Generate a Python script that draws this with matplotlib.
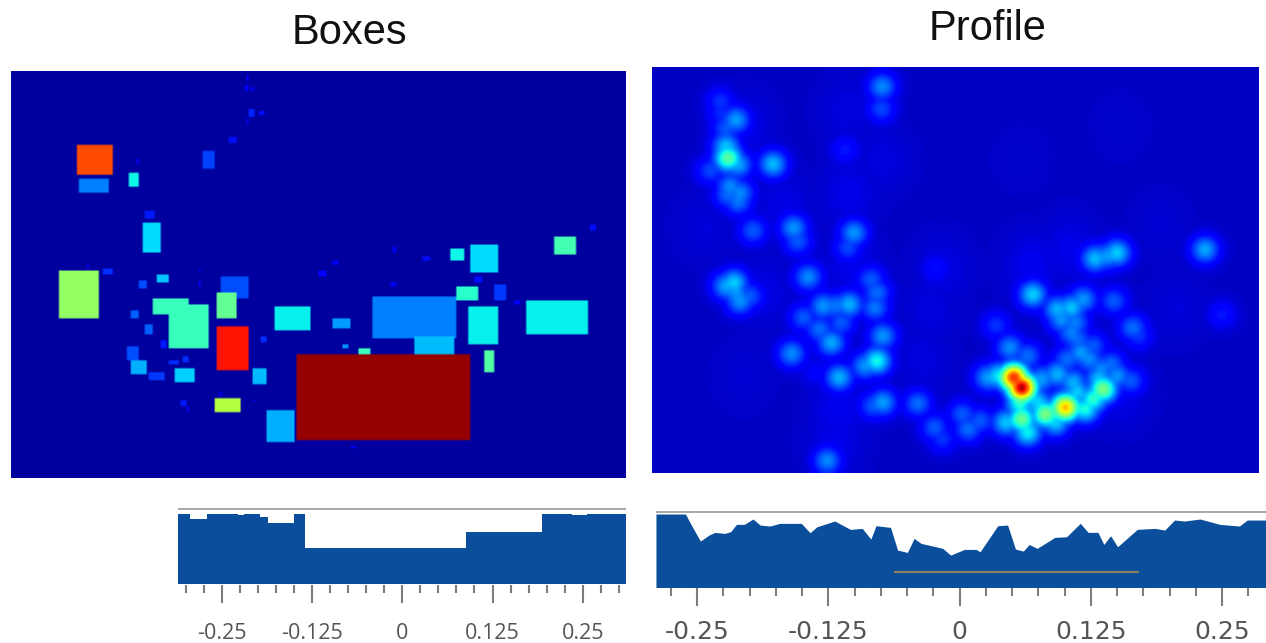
import numpy as np
import matplotlib
matplotlib.use("Agg")
import matplotlib.pyplot as plt
from matplotlib.ticker import FixedLocator, NullFormatter

W, H = 1266, 643

# ---- Boxes panel: x0, y0, x1, y1, level (image units)
box_bg = 0.03
boxes = [
 (190,256,277,344,.83),(194,357,268,401,.25),(317,339,342,379,.37),(498,273,525,327,.19),
 (561,228,581,250,.14),(605,45,609,60,.12),(600,77,609,92,.12),(616,82,623,94,.1),
 (608,148,622,172,.16),(632,150,646,166,.14),(604,178,609,194,.1),(333,298,337,312,.1),
 (354,452,378,478,.15),(351,485,396,579,.34),(143,629,244,775,.53),(250,625,276,646,.17),
 (212,612,220,625,.12),(342,662,358,685,.2),(384,646,414,668,.32),(540,651,609,718,.2),
 (531,696,581,775,.47),(374,713,461,763,.42),(415,736,511,864,.42),(322,752,342,775,.22),
 (355,796,373,825,.22),(392,840,410,864,.15),(309,859,342,902,.2),(322,898,359,942,.3),
 (364,937,405,959,.18),(415,898,438,914,.17),(446,886,462,905,.17),(428,924,475,965,.33),
 (531,802,609,930,.89),(617,925,655,975,.31),(640,828,654,848,.17),(526,1014,589,1059,.57),
 (442,1019,457,1036,.15),(457,1040,462,1055,.12),(654,1048,724,1146,.3),(673,741,761,813,.36),
 (815,775,857,807,.28),(838,852,853,865,.27),(880,864,908,882,.42),(914,708,1118,834,.25),
 (1014,830,1114,882,.31),(725,881,1151,1142,.98),(1147,741,1222,852,.36),(1119,680,1171,724,.4),
 (1101,568,1140,602,.37),(1151,551,1222,636,.34),(1360,530,1414,585,.43),(1290,724,1442,825,.36),
 (1188,869,1213,936,.45),(1212,675,1240,724,.18),(1161,651,1181,668,.14),(1262,722,1277,734,.12),
 (1445,495,1462,514,.14),(780,634,798,647,.12),(814,600,830,613,.12),(955,668,972,680,.12),
 (1036,590,1055,602,.14),(962,560,972,575,.1),(860,1156,872,1166,.1),(620,1018,628,1026,.08),
 (537,998,547,1010,.08),(487,660,494,678,.1),(488,628,494,636,.08),
]

# ---- Profile panel: bright spots (x, y, level)
profile_bg = 0.06
spots = [
 (190,125,.18),(192,160,.17),(230,180,.29),(205,205,.22),(205,260,.33),(210,295,.48),(235,315,.3),(165,333,.2),
 (323,313,.32),(215,380,.27),(240,400,.27),(235,425,.25),(210,405,.24),(273,513,.22),(375,505,.28),
 (385,545,.22),(527,520,.28),(512,565,.2),(598,80,.27),(596,147,.2),(505,270,.15),
 (225,670,.34),(205,680,.3),(240,725,.28),(265,710,.22),(230,700,.28),(412,653,.27),(570,660,.22),(585,700,.24),
 (580,745,.25),(515,735,.31),(450,740,.28),(480,740,.25),(400,775,.22),(440,810,.24),(470,850,.3),(495,790,.22),
 (600,830,.28),(585,905,.39),(555,920,.28),(370,883,.27),(490,955,.31),(430,940,.12),(600,1030,.29),
 (575,1040,.22),(688,1033,.24),(733,628,.14),(730,1105,.22),(750,1140,.18),(800,1065,.22),(815,1110,.24),
 (845,1085,.22),(978,705,.34),(885,798,.18),(1040,750,.31),(1075,745,.33),(1105,720,.28),(1085,790,.26),
 (1050,780,.28),(1075,820,.26),(1090,840,.24),(1100,880,.29),(1130,860,.22),(1065,900,.24),(1120,900,.27),
 (1150,930,.27),(1175,915,.24),(1190,950,.28),(1225,965,.22),(1145,960,.33),
 (1155,990,.52),(1130,1020,.42),(1110,1050,.4),(1060,1045,.74),(1010,1065,.52),(950,1080,.5),(965,1120,.38),
 (910,1090,.33),(1035,1090,.34),(930,955,.9),(950,985,1.0),(890,950,.36),(865,955,.29),(920,865,.27),
 (965,890,.24),(1000,960,.29),(1040,945,.31),(1080,970,.31),(1090,1000,.34),(990,1030,.35),(945,1030,.42),
 (1135,597,.32),(1190,580,.34),(1165,590,.29),(1412,570,.3),(1182,725,.22),(1230,805,.24),(1245,830,.18),
 (1455,765,.15),(460,1205,.27),
]
glows = [
 (510,150,.085),(515,400,.095),(520,620,.095),(490,1050,.1),(480,1150,.095),(600,300,.085),(975,620,.1),
 (750,630,.09),(1070,570,.095),(350,440,.09),(300,700,.09),(150,500,.08),(1340,750,.08),(720,750,.085),
 (950,300,.07),(1200,200,.07),(250,200,.095),(250,950,.075),(700,900,.085),(1200,1000,.095),(1300,500,.075),
]

# ---- Strips under the panels
ticks = [-0.25, -0.125, 0, 0.125, 0.25]
tick_labels = ["-0.25", "-0.125", "0", "0.125", "0.25"]
boxes_edges = [-.3107,-.2940,-.2700,-.2271,-.2193,-.1971,-.1856,-.1496,-.1347,.0878,.1931,.2346,.2554,.3099]
boxes_depth = [56,72,56,60,56,66,85,56,160,112,56,59,56,56]
profile_u = [15,90,105,128,150,165,190,205,220,240,262,280,305,330,385,407,425,470,510,540,562,575,612,630,
             655,672,690,720,745,765,800,830,840,885,910,930,950,965,985,1030,1060,1095,1115,1140,1155,1172,
             1190,1240,1285,1310,1335,1360,1400,1450,1500,1520,1568]
profile_depth = [57,57,90,138,120,112,115,110,88,88,72,90,93,85,85,113,95,78,103,100,132,92,97,165,
                 172,130,145,153,160,180,163,163,170,92,90,162,168,148,160,127,125,85,112,112,148,122,
                 155,103,100,105,75,78,72,88,93,75,75]

FILL = "#0b4f9c"
TICK = "#7d7d7d"
TXT = "#555555"


def axpx(fig, x0, y0, x1, y1):
    return fig.add_axes([x0 / W, 1 - y1 / H, (x1 - x0) / W, (y1 - y0) / H])


fig = plt.figure(figsize=(W / 100, H / 100), dpi=100, facecolor="white")

# Boxes heat panel
ax1 = axpx(fig, 11, 71, 626, 478)
gw, gh = 308, 204
xl = (27, 1534)
yl = (33, 1254)
grid = np.full((gh, gw), box_bg)
for x0, y0, x1, y1, v in boxes:
    c0 = int(round((x0 - xl[0]) / (xl[1] - xl[0]) * gw))
    c1 = max(c0 + 1, int(round((x1 - xl[0]) / (xl[1] - xl[0]) * gw)))
    r0 = int(round((y0 - yl[0]) / (yl[1] - yl[0]) * gh))
    r1 = max(r0 + 1, int(round((y1 - yl[0]) / (yl[1] - yl[0]) * gh)))
    grid[r0:r1, c0:c1] = v
ax1.imshow(grid, cmap="jet", vmin=0, vmax=1, aspect="auto", interpolation="bilinear",
           extent=(xl[0], xl[1], yl[1], yl[0]))
ax1.axis("off")
ax1.set_title("Boxes", fontsize=30, family="Liberation Sans", pad=19.5, x=(349 - 11) / 615, color="#111111")

# Profile heat panel
ax2 = axpx(fig, 652, 67, 1258, 473)
cw, ch = 152, 102
pxl = (18, 1548)
pyl = (21, 1242)
ux = pxl[0] + (np.arange(cw) + 0.5) / cw * (pxl[1] - pxl[0])
vy = pyl[0] + (np.arange(ch) + 0.5) / ch * (pyl[1] - pyl[0])
UU, VV = np.meshgrid(ux, vy)
hm = np.full((ch, cw), profile_bg)
def deposit(points, sx, sy):
    global hm
    for u, v, val in points:
        d2 = ((UU - u) / sx) ** 2 + ((VV - v) / sy) ** 2
        hm = np.maximum(hm, profile_bg + (val - profile_bg) * np.exp(-d2 / 2))
deposit(glows, 50, 70)
deposit(spots, 25, 29)
ax2.imshow(hm, cmap="jet", vmin=0, vmax=1, aspect="auto", interpolation="bicubic",
           extent=(pxl[0], pxl[1], pyl[1], pyl[0]))
ax2.axis("off")
ax2.set_title("Profile", fontsize=30, family="Liberation Sans", pad=19.5, x=(988 - 652) / 606, color="#111111")


def strip(ax, xlim, base, line_depth, fontfamily, fontsize, major, minor, pad):
    ax.set_xlim(*xlim)
    ax.set_ylim(base, 30)
    for s in ax.spines.values():
        s.set_visible(False)
    ax.axhline(line_depth, color="#a0a0a0", lw=1.3)
    ax.set_yticks([])
    ax.set_xticks(ticks)
    ax.set_xticklabels(tick_labels, family=fontfamily, fontsize=fontsize, color=TXT)
    mins = [t + k * 0.025 for t in np.arange(-0.5, 0.5, 0.125) for k in range(1, 5)]
    mins = [m for m in mins if xlim[0] < m < xlim[1]]
    ax.xaxis.set_minor_locator(FixedLocator(mins))
    ax.xaxis.set_minor_formatter(NullFormatter())
    ax.tick_params(axis="x", which="major", length=major, width=1.5, color=TICK, pad=pad)
    ax.tick_params(axis="x", which="minor", length=minor, width=1.5, color=TICK)


# Boxes strip
ax3 = axpx(fig, 178, 505, 626, 584.5)
strip(ax3, (-0.3107, 0.3099), 268, 42, "Open Sans", 15.5, 13, 6, 14.5)
ax3.fill_between(boxes_edges, boxes_depth, 268, step="post", color=FILL, lw=0)

# Profile strip
ax4 = axpx(fig, 656, 505, 1266, 587.5)
strip(ax4, (-0.2892, 0.2918), 277, 52, "DejaVu Sans", 18, 13, 6, 10.5)
px = (650 + np.array(profile_u) / 2.545 - 959.6) / 1050
ax4.fill_between(px, profile_depth, 277, color=FILL, lw=0)
ax4.plot([-0.0617, 0.1703], [232, 232], color="#8d7f5a", lw=1.5)

fig.savefig("out.png", dpi=100, facecolor="white")
